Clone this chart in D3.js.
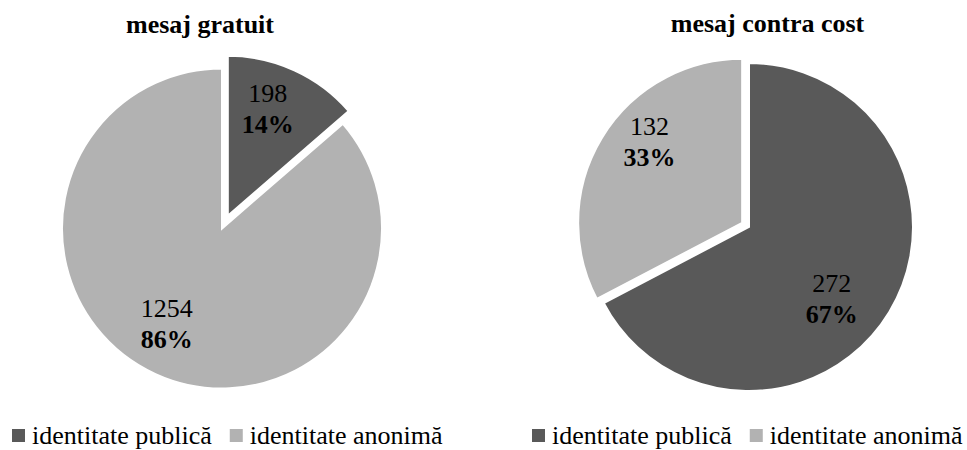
<!DOCTYPE html>
<html>
<head>
<meta charset="utf-8">
<script src="https://cdn.jsdelivr.net/npm/d3@7"></script>
</head>
<body style="margin:0">
<svg id="chart" width="967" height="450" style="font-family:'Liberation Serif','Times New Roman',Tinos"></svg>
<script>
// Categories shared by both pies
const categories = ["identitate publică", "identitate anonimă"];
const categoryColors = ["#595959", "#b2b2b2"];

// Chart titles
const titles = ["mesaj gratuit", "mesaj contra cost"];

// Message counts per category
const freeValues = [198, 1254];
const paidValues = [272, 132];

// Percent labels shown on the slices
const freePercents = ["14%", "86%"];
const paidPercents = ["67%", "33%"];

const fontFace = "'Liberation Serif','Times New Roman',Tinos";

// Layout for each pie panel
const panels = [
  {
    title: titles[0], values: freeValues, percents: freePercents,
    cx: 222, cy: 228.5, r: 160, explodeIndex: 0, explode: 14,
    titleX: 200, titleY: 33,
    labelRadius: [0.71, 0.69], labelTurn: [-4, 5.5],
    legendX: 12
  },
  {
    title: titles[1], values: paidValues, percents: paidPercents,
    cx: 749, cy: 227, r: 164, explodeIndex: 1, explode: 8,
    titleX: 767.5, titleY: 32,
    labelRadius: [0.67, 0.75], labelTurn: [10, 10],
    legendX: 532
  }
];

const svg = d3.select("#chart");
const color = d3.scaleOrdinal().domain(categories).range(categoryColors);
const pie = d3.pie().sort(null).value(d => d.value).startAngle(0).endAngle(2 * Math.PI);
const deg = Math.PI / 180;

panels.forEach(p => {
  const g = svg.append("g");
  const data = p.values.map((v, i) => ({ category: categories[i], value: v, percent: p.percents[i] }));
  const arcs = pie(data);
  const arc = d3.arc().innerRadius(0).outerRadius(p.r);

  // Offset of a slice along its bisector when exploded
  const offset = (a, i) => {
    if (i !== p.explodeIndex) return [0, 0];
    const mid = (a.startAngle + a.endAngle) / 2;
    return [Math.sin(mid) * p.explode, -Math.cos(mid) * p.explode];
  };

  // Title
  g.append("text")
    .attr("x", p.titleX).attr("y", p.titleY)
    .attr("text-anchor", "middle")
    .style("font-family", () => fontFace)
    .style("font-size", "26px").style("font-weight", "bold")
    .attr("fill", "#000")
    .text(p.title);

  // Slices
  g.selectAll("path.slice").data(arcs).join("path")
    .attr("class", "slice")
    .attr("d", arc)
    .attr("transform", (a, i) => {
      const [dx, dy] = offset(a, i);
      return `translate(${p.cx + dx},${p.cy + dy})`;
    })
    .attr("fill", a => color(a.data.category))
    .attr("stroke", "#ffffff")
    .attr("stroke-width", 2)
    .attr("stroke-linejoin", "miter");

  // Value + percentage labels
  arcs.forEach((a, i) => {
    const [dx, dy] = offset(a, i);
    const rr = p.r * p.labelRadius[i];
    const turn = p.labelTurn[i] * deg;
    const mid = (a.startAngle + a.endAngle) / 2 + turn;
    const lx = p.cx + dx + Math.sin(mid) * rr;
    const ly = p.cy + dy - Math.cos(mid) * rr;
    const t = g.append("text")
      .attr("text-anchor", "middle")
      .style("font-family", () => fontFace)
      .style("font-size", "26px")
      .attr("fill", "#000");
    t.append("tspan").attr("x", lx).attr("y", ly - 7).text(a.data.value);
    t.append("tspan").attr("x", lx).attr("y", ly + 24)
      .style("font-weight", "bold").text(a.data.percent);
  });

  // Legend
  let x = p.legendX;
  categories.forEach((c, i) => {
    g.append("rect")
      .attr("x", x).attr("y", 429)
      .attr("width", 13).attr("height", 13)
      .attr("fill", color(c));
    const txt = g.append("text")
      .attr("x", x + 20).attr("y", 444)
      .style("font-family", () => fontFace)
      .style("font-size", "26px")
      .attr("fill", "#000")
      .text(c);
    x += 20 + txt.node().getComputedTextLength() + 18;
  });
});
</script>
</body>
</html>
